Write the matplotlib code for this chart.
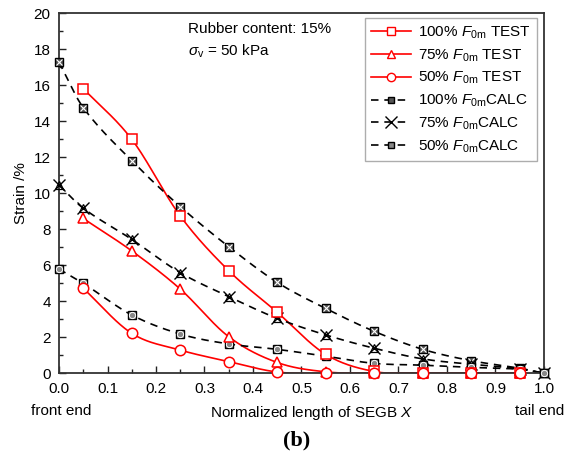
import numpy as np
import matplotlib
matplotlib.use("Agg")
import matplotlib.pyplot as plt
from matplotlib.lines import Line2D
from matplotlib.ticker import MultipleLocator

plt.rcParams['font.family'] = ['Liberation Sans', 'DejaVu Sans']
plt.rcParams['mathtext.fontset'] = 'custom'
plt.rcParams['mathtext.rm'] = 'Liberation Sans'
plt.rcParams['mathtext.it'] = 'Liberation Sans:italic'

# --- measured strains (TEST) at the sensor positions ---
x_test = [0.05, 0.15, 0.25, 0.35, 0.45, 0.55, 0.65, 0.75, 0.85, 0.95]
test_100 = [15.82, 13.0, 8.74, 5.7, 3.39, 1.05, 0.1, 0.0, 0.0, 0.0]
test_75 = [8.6, 6.8, 4.68, 2.03, 0.6, 0.08, 0.0, 0.0, 0.0, 0.0]
test_50 = [4.72, 2.22, 1.29, 0.65, 0.07, 0.0, 0.0, 0.0, 0.0, 0.0]

# --- calculated strains (CALC) ---
x_calc = [0.0, 0.05, 0.15, 0.25, 0.35, 0.45, 0.55, 0.65, 0.75, 0.85, 0.95, 1.0]
calc_100 = [17.28, 14.76, 11.81, 9.26, 7.03, 5.05, 3.6, 2.33, 1.33, 0.7, 0.28, 0.0]
calc_75 = [10.46, 9.17, 7.44, 5.59, 4.26, 3.05, 2.13, 1.39, 0.8, 0.5, 0.25, 0.0]
calc_50 = [5.79, 5.0, 3.24, 2.18, 1.63, 1.33, 0.95, 0.55, 0.45, 0.33, 0.22, 0.0]

labels = ["100%", "75%", "50%"]


def smooth_path(x, y, xs):
    # cardinal (Catmull-Rom) cubic path through the points
    x = np.asarray(x, float)
    y = np.asarray(y, float)
    h = np.diff(x)
    m = np.empty_like(y)
    m[1:-1] = (y[2:] - y[:-2]) / (x[2:] - x[:-2])
    m[0] = (y[1] - y[0]) / h[0]
    m[-1] = (y[-1] - y[-2]) / h[-1]
    idx = np.clip(np.searchsorted(x, xs) - 1, 0, len(x) - 2)
    t = (xs - x[idx]) / h[idx]
    h00 = 2 * t**3 - 3 * t**2 + 1
    h10 = t**3 - 2 * t**2 + t
    h01 = -2 * t**3 + 3 * t**2
    h11 = t**3 - t**2
    ys = (h00 * y[idx] + h10 * h[idx] * m[idx]
          + h01 * y[idx + 1] + h11 * h[idx] * m[idx + 1])
    return np.maximum(ys, 0)


fig = plt.figure(figsize=(5.74, 4.51), dpi=100)
ax = fig.add_axes([0.1028, 0.1723, 0.8449, 0.7982])

red = "#ff0000"
dash = (0, (4.5, 3.5))
fs = 11

# smooth curves
for xs_, ys_, col, ls in [(x_test, test_100, red, "-"), (x_test, test_75, red, "-"),
                          (x_test, test_50, red, "-"),
                          (x_calc, calc_100, "k", dash), (x_calc, calc_75, "k", dash),
                          (x_calc, calc_50, "k", dash)]:
    xx = np.linspace(xs_[0], xs_[-1], 400)
    ax.plot(xx, smooth_path(xs_, ys_, xx), color=col, ls=ls, lw=1.2, zorder=2)

# calculated markers
ax.plot(x_calc, calc_100, ls="none", marker="s", ms=5.5, mfc="#555555", mec="k", mew=1.0,
        clip_on=False, zorder=3)
ax.plot(x_calc, calc_100, ls="none", marker="x", ms=4, mec="white", mew=0.8,
        clip_on=False, zorder=3)
ax.plot(x_calc, calc_75, ls="none", marker="^", ms=6, mfc="none", mec="k", mew=0.9,
        clip_on=False, zorder=3)
ax.plot(x_calc, calc_75, ls="none", marker="x", ms=9, mec="k", mew=1.0,
        clip_on=False, zorder=3)
ax.plot(x_calc, calc_50, ls="none", marker="s", ms=5.5, mfc="#888888", mec="k", mew=1.0,
        clip_on=False, zorder=3)
ax.plot(x_calc, calc_50, ls="none", marker="o", ms=4.5, mfc="none", mec="white", mew=0.7,
        clip_on=False, zorder=3)

# measured markers
for ys_, mk in [(test_100, "s"), (test_75, "^"), (test_50, "o")]:
    ax.plot(x_test, ys_, ls="none", marker=mk, ms=7.5, mfc="white", mec=red, mew=1.1,
            clip_on=False, zorder=4)

ax.set_xlim(0, 1.0)
ax.set_ylim(0, 20)
ax.xaxis.set_major_locator(MultipleLocator(0.1))
ax.xaxis.set_minor_locator(MultipleLocator(0.05))
ax.yaxis.set_major_locator(MultipleLocator(2))
ax.yaxis.set_minor_locator(MultipleLocator(1))
ax.xaxis.set_major_formatter(matplotlib.ticker.FormatStrFormatter("%.1f"))
ax.tick_params(which="both", direction="in", top=False, right=False,
               labelsize=fs, color="#222222")
ax.tick_params(which="major", length=5, width=1.0, pad=6)
ax.tick_params(which="minor", length=3, width=1.0)
for s in ax.spines.values():
    s.set_color("#333333")
    s.set_linewidth(1.3)

ax.set_ylabel("Strain /%", fontsize=fs, labelpad=4)
ax.text(0.005, -0.085, "front end", transform=ax.transAxes, ha="center", va="top",
        fontsize=fs)
ax.text(0.99, -0.085, "tail end", transform=ax.transAxes, ha="center", va="top",
        fontsize=fs)
ax.text(0.52, -0.085, "Normalized length of SEGB $X$", transform=ax.transAxes,
        ha="center", va="top", fontsize=fs)
ax.text(0.49, -0.16, "(b)", transform=ax.transAxes, ha="center", va="top",
        fontsize=16, fontweight="bold", family="Liberation Serif")

ax.text(0.265, 0.957, "Rubber content: 15%", transform=ax.transAxes, ha="left",
        va="center", fontsize=fs)
ax.text(0.265, 0.895, r"$\sigma_{\rm v}$ = 50 kPa", transform=ax.transAxes, ha="left",
        va="center", fontsize=fs)

# legend
handles = []
for mk in ["s", "^", "o"]:
    handles.append(Line2D([], [], color=red, lw=1.2, marker=mk, ms=6, mfc="white",
                          mec=red, mew=1.0))
handles.append(Line2D([], [], color="k", lw=1.2, ls=dash, marker="s", ms=5,
                      mfc="#555555", mec="k"))
handles.append(Line2D([], [], color="k", lw=1.2, ls=dash, marker="x", ms=8, mec="k"))
handles.append(Line2D([], [], color="k", lw=1.2, ls=dash, marker="s", ms=5,
                      mfc="#888888", mec="k"))
leg_labels = [f"{p} $F_{{\\rm 0m}}$ TEST" for p in labels] + \
             [f"{p} $F_{{\\rm 0m}}$CALC" for p in labels]
leg = ax.legend(handles, leg_labels, loc="upper right", bbox_to_anchor=(0.986, 0.986),
                borderaxespad=0, fontsize=fs, frameon=True, fancybox=False,
                handlelength=2.6, handletextpad=0.5, labelspacing=0.42, borderpad=0.4)
leg.get_frame().set_edgecolor("#999999")
leg.get_frame().set_linewidth(1.0)

fig.savefig("out.png", dpi=100)
